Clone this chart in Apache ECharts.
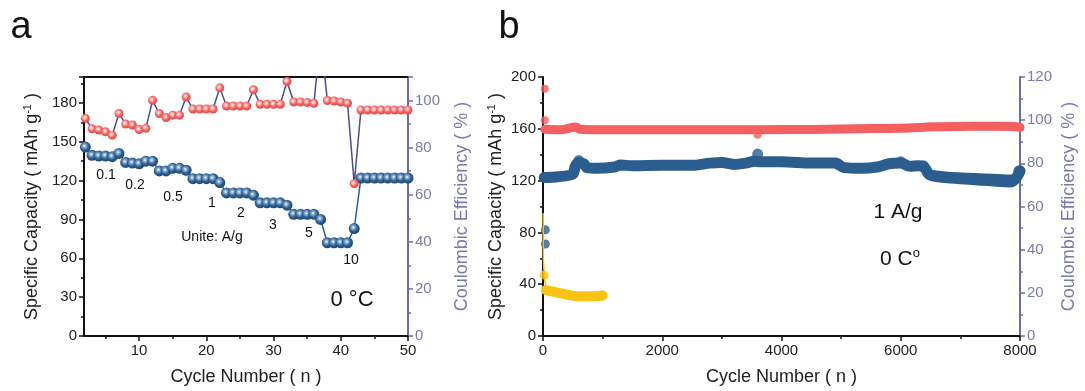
<!DOCTYPE html>
<html>
<head>
<meta charset="utf-8">
<script src="https://cdn.jsdelivr.net/npm/echarts@6/dist/echarts.min.js"></script>
<style>
html, body { margin: 0; padding: 0; background: #fff; }
#chart { width: 1085px; height: 391px; }
</style>
</head>
<body>
<div id="chart"></div>
<script>
// ---- Panel a: rate performance at 0 °C ----
const rateCycles = [2, 3, 4, 5, 6, 7, 8, 9, 10, 11, 12, 13, 14, 15, 16, 17, 18, 19, 20, 21, 22, 23, 24, 25, 26,
  27, 28, 29, 30, 31, 32, 33, 34, 35, 36, 37, 38, 39, 40, 41, 42, 43, 44, 45, 46, 47, 48, 49, 50];
const rateCapacity = [145.9, 139.5, 139, 139, 138.5, 141, 134, 133.5, 133, 135, 135, 127.5, 127.5, 129.5, 129.5,
  128, 121.5, 121.5, 121.5, 121.5, 118.5, 110.5, 110.5, 110.5, 110.5, 108.7, 102.8, 102.8, 102.8, 102.8,
  101, 94, 94, 94, 94, 90, 72, 72, 72, 72, 83, 122, 122, 122, 122, 122, 122, 122, 122];
const rateEfficiency = [92.4, 88, 87.5, 86.7, 85.3, 94.5, 90, 89.6, 87.7, 88.2, 100.1, 94.5, 92.8, 93.8, 93.8,
  101.5, 96.4, 96.4, 96.4, 96.4, 105.4, 97.7, 97.7, 97.7, 97.7, 104.6, 98.4, 98.4, 98.4, 98.4,
  108.1, 99.4, 99.4, 99.2, 98.8, 127, 100, 99.8, 99.4, 98.9, 64.7, 96, 96, 96, 96, 96, 96, 96, 96];
const rateLabels = ['0.1', '0.2', '0.5', '1', '2', '3', '5', '10'];
const rateXTicks = [10, 20, 30, 40, 50];
const rateXMinorTicks = [5, 15, 25, 35, 45];

// ---- Panel b: long cycling at 1 A/g, 0 °C ----
const longCapCycles = [20, 250, 500, 540, 600, 680, 740, 900, 1200, 1300, 1500, 2000, 2500, 2800, 3000, 3200,
  3400, 3550, 3650, 4000, 4500, 4900, 5050, 5350, 5600, 5800, 6000, 6150, 6300, 6400, 6480, 6700, 7000,
  7300, 7600, 7850, 7950, 8000];
const longCapValues = [122.4, 123, 125, 131, 134, 133, 130, 129.5, 130.5, 132, 131.5, 131.8, 131.8, 133.5, 134,
  132.5, 133.5, 135, 134.5, 134.5, 133.5, 133.5, 130, 129.5, 130.5, 133, 133.5, 131, 131.5, 130, 124.5,
  122.5, 121.5, 120.5, 119.5, 119, 123, 127.5];
// upper fringe of the capacity band during the late fade
const longCapEdgeCycles = [6500, 6800, 7100, 7400, 7700, 7850];
const longCapEdgeValues = [126, 124.5, 123.8, 123.2, 122.6, 122.3];
const longCapBlobCycles = [600, 3600, 6000, 6380, 7980];
const longCapBlobValues = [135.5, 140.5, 134.5, 131.5, 127.5];
const longCapStartCycles = [40, 40];
const longCapStartValues = [82, 71];

const longCeCycles = [30, 300, 550, 620, 1000, 2000, 3000, 3500, 3650, 4500, 5000, 5500, 6000, 6300, 6500,
  7000, 7500, 7900, 8000];
const longCeValues = [95.8, 95.6, 96.8, 95.8, 95.6, 95.6, 95.6, 95.6, 95.6, 95.7, 95.9, 96.1, 96.3, 96.6, 96.9,
  97.1, 97.2, 97.1, 96.7];
const longCeDotCycles = [30, 30, 3600];
const longCeDotValues = [114.5, 100, 93.3];

const refCapHeadCycles = [3, 6, 20, 50];
const refCapHeadValues = [95, 60, 47, 37];
const refCapCycles = [50, 150, 300, 450, 600, 800, 1000];
const refCapValues = [35.5, 34.5, 33, 31.5, 30.6, 30.6, 31.3];

const BLUE = '#2c5d8f';
const RED = '#f65f5f';
const YELLOW = '#f8c313';
const PURPLE = '#6c6ca5';
const PURPLE_TEXT = '#7b7bb0';
const FONT = '"Liberation Sans", Arial, sans-serif';

function ball(light, base, dark) {
  return {
    type: 'radial', x: 0.42, y: 0.4, r: 0.62,
    colorStops: [
      { offset: 0, color: '#ffffff' },
      { offset: 0.22, color: light },
      { offset: 0.6, color: base },
      { offset: 1, color: dark }
    ]
  };
}
const pairs = (xs, ys) => xs.map((x, i) => [x, ys[i]]);

const tickLabel = { fontSize: 15, color: '#222', fontFamily: FONT, margin: 7 };
const tickLabelPurple = { fontSize: 15, color: PURPLE_TEXT, fontFamily: FONT, margin: 7 };
const blackLine = { show: true, lineStyle: { color: '#111', width: 2 } };
const purpleLine = { show: true, lineStyle: { color: PURPLE, width: 2 } };
const nameStyle = {
  fontSize: 18, color: '#222', fontFamily: FONT,
  rich: { sup: { fontSize: 11, fontFamily: FONT, color: '#222', padding: [0, 0, 9, 0] } }
};
const nameStylePurple = { fontSize: 18, color: PURPLE_TEXT, fontFamily: FONT };

const option = {
  animation: false,
  backgroundColor: '#fff',
  grid: [
    { left: 84, right: 677, top: 77, bottom: 53 },
    { left: 543, right: 65, top: 77, bottom: 53 }
  ],
  xAxis: [
    {
      gridIndex: 0, type: 'value', position: 'bottom', min: 1.8, max: 50,
      axisLine: blackLine,
      axisTick: { show: true, customValues: rateXTicks, length: 5, lineStyle: { color: '#111', width: 1.5 } },
      axisLabel: Object.assign({ customValues: rateXTicks }, tickLabel),
      splitLine: { show: false },
      name: 'Cycle Number ( n )', nameLocation: 'middle', nameGap: 32, nameTextStyle: nameStyle
    },
    {
      gridIndex: 0, type: 'value', position: 'bottom', min: 1.8, max: 50,
      axisLine: { show: false },
      axisTick: { show: true, customValues: rateXMinorTicks, length: 3, lineStyle: { color: '#111', width: 1.5 } },
      axisLabel: { show: false }, splitLine: { show: false }
    },
    {
      gridIndex: 0, type: 'value', position: 'top', min: 1.8, max: 50,
      axisLine: blackLine, axisTick: { show: false }, axisLabel: { show: false }, splitLine: { show: false }
    },
    {
      gridIndex: 1, type: 'value', position: 'bottom', min: 0, max: 8000, interval: 2000,
      axisLine: blackLine,
      axisTick: { show: true, length: 5, lineStyle: { color: '#111', width: 1.5 } },
      minorTick: { show: true, splitNumber: 2, length: 3, lineStyle: { color: '#111', width: 1.5 } },
      axisLabel: Object.assign({ formatter: (v) => String(v) }, tickLabel),
      splitLine: { show: false }, minorSplitLine: { show: false },
      name: 'Cycle Number ( n )', nameLocation: 'middle', nameGap: 32, nameTextStyle: nameStyle
    }
  ],
  yAxis: [
    {
      gridIndex: 0, type: 'value', position: 'left', min: 0, max: 200, interval: 30,
      axisLine: blackLine,
      axisTick: { show: true, length: 5, lineStyle: { color: '#111', width: 1.5 } },
      minorTick: { show: true, splitNumber: 2, length: 3, lineStyle: { color: '#111', width: 1.5 } },
      axisLabel: Object.assign({ showMaxLabel: false }, tickLabel),
      splitLine: { show: false }, minorSplitLine: { show: false },
      name: 'Specific Capacity ( mAh g{sup|-1} )', nameLocation: 'middle', nameGap: 42, nameTextStyle: nameStyle
    },
    {
      gridIndex: 0, type: 'value', position: 'right', min: 0, max: 110, interval: 20,
      axisLine: purpleLine,
      axisTick: { show: true, length: 5, lineStyle: { color: PURPLE, width: 1.5 } },
      minorTick: { show: true, splitNumber: 2, length: 3, lineStyle: { color: PURPLE, width: 1.5 } },
      axisLabel: Object.assign({ showMaxLabel: false }, tickLabelPurple),
      splitLine: { show: false }, minorSplitLine: { show: false },
      name: 'Coulombic Efficiency ( % )', nameLocation: 'middle', nameGap: 45, nameRotate: 90,
      nameTextStyle: nameStylePurple
    },
    {
      gridIndex: 1, type: 'value', position: 'left', min: 0, max: 200, interval: 40,
      axisLine: blackLine,
      axisTick: { show: true, length: 5, lineStyle: { color: '#111', width: 1.5 } },
      minorTick: { show: true, splitNumber: 2, length: 3, lineStyle: { color: '#111', width: 1.5 } },
      axisLabel: tickLabel,
      splitLine: { show: false }, minorSplitLine: { show: false },
      name: 'Specific Capacity ( mAh g{sup|-1} )', nameLocation: 'middle', nameGap: 37, nameTextStyle: nameStyle
    },
    {
      gridIndex: 1, type: 'value', position: 'right', min: 0, max: 120, interval: 20,
      axisLine: purpleLine,
      axisTick: { show: true, length: 5, lineStyle: { color: PURPLE, width: 1.5 } },
      minorTick: { show: true, splitNumber: 2, length: 3, lineStyle: { color: PURPLE, width: 1.5 } },
      axisLabel: tickLabelPurple,
      splitLine: { show: false }, minorSplitLine: { show: false },
      name: 'Coulombic Efficiency ( % )', nameLocation: 'middle', nameGap: 40, nameRotate: 90,
      nameTextStyle: nameStylePurple
    }
  ],
  series: [
    // panel a: capacity
    {
      type: 'line', xAxisIndex: 0, yAxisIndex: 0, data: pairs(rateCycles, rateCapacity),
      symbol: 'circle', symbolSize: 11, clip: true,
      lineStyle: { color: BLUE, width: 1.5 },
      itemStyle: { color: ball('#8fb3d6', BLUE, '#1f476e') }
    },
    // panel a: coulombic efficiency
    {
      type: 'line', xAxisIndex: 0, yAxisIndex: 1, data: pairs(rateCycles, rateEfficiency),
      symbol: 'circle', symbolSize: 9, clip: true,
      lineStyle: { color: '#4d4d8c', width: 1.5 },
      itemStyle: { color: ball('#ffc2c2', RED, '#e24848') }
    },
    // panel b: reference cell capacity (yellow)
    {
      type: 'line', xAxisIndex: 3, yAxisIndex: 2, data: pairs(refCapHeadCycles, refCapHeadValues),
      symbol: 'none', lineStyle: { color: YELLOW, width: 1.5 }
    },
    {
      type: 'line', xAxisIndex: 3, yAxisIndex: 2, data: pairs(refCapCycles, refCapValues),
      symbol: 'none', smooth: 0.3,
      lineStyle: { color: YELLOW, width: 10, cap: 'round', join: 'round' }
    },
    {
      type: 'scatter', xAxisIndex: 3, yAxisIndex: 2, data: [[refCapHeadCycles[2], refCapHeadValues[2]]],
      symbolSize: 9, itemStyle: { color: YELLOW }
    },
    // panel b: capacity (blue)
    {
      type: 'line', xAxisIndex: 3, yAxisIndex: 2, data: pairs(longCapCycles, longCapValues),
      symbol: 'none', smooth: 0.3,
      lineStyle: { color: BLUE, width: 11, cap: 'round', join: 'round' }
    },
    {
      type: 'line', xAxisIndex: 3, yAxisIndex: 2, data: pairs(longCapEdgeCycles, longCapEdgeValues),
      symbol: 'none', smooth: 0.3,
      lineStyle: { color: BLUE, width: 6, cap: 'round', join: 'round' }
    },
    {
      type: 'scatter', xAxisIndex: 3, yAxisIndex: 2, data: pairs(longCapBlobCycles, longCapBlobValues),
      symbolSize: 11, itemStyle: { color: BLUE }
    },
    {
      type: 'scatter', xAxisIndex: 3, yAxisIndex: 2, data: pairs(longCapStartCycles, longCapStartValues),
      symbolSize: 9, itemStyle: { color: BLUE }
    },
    // panel b: coulombic efficiency (red)
    {
      type: 'line', xAxisIndex: 3, yAxisIndex: 3, data: pairs(longCeCycles, longCeValues),
      symbol: 'none', smooth: 0.3,
      lineStyle: { color: RED, width: 9, cap: 'round', join: 'round' }
    },
    {
      type: 'scatter', xAxisIndex: 3, yAxisIndex: 3, data: pairs(longCeDotCycles, longCeDotValues),
      symbolSize: 8, itemStyle: { color: RED }
    }
  ]
};

const chart = echarts.init(document.getElementById('chart'), null, { renderer: 'canvas' });
chart.setOption(option);

// text annotations
const txt = (text, x, y, size, extra) => Object.assign({
  type: 'text', x: x, y: y, z: 100,
  style: Object.assign({
    text: text, fontSize: size, fontFamily: FONT, fill: '#111',
    align: 'center', verticalAlign: 'middle', textAlign: 'center', textVerticalAlign: 'middle'
  }, extra || {})
});
const ratePos = [[106, 175], [135, 185], [173, 197], [212, 203], [241, 213], [273, 225], [309, 233], [351, 260]];
const graphics = [
  txt('a', 21, 28, 38),
  txt('b', 509, 28, 38),
  txt('Unite: A/g', 212, 237, 14),
  txt('0 \u00B0C', 352, 300, 22),
  txt('1 A/g', 898, 212, 21),
  txt('0 C{s|o}', 900, 259, 21, { rich: { s: { fontSize: 13, fontFamily: FONT, fill: '#111', padding: [0, 0, 12, 0] } } })
];
rateLabels.forEach((t, i) => graphics.push(txt(t, ratePos[i][0], ratePos[i][1], 14)));
chart.setOption({ graphic: graphics });
</script>
</body>
</html>
